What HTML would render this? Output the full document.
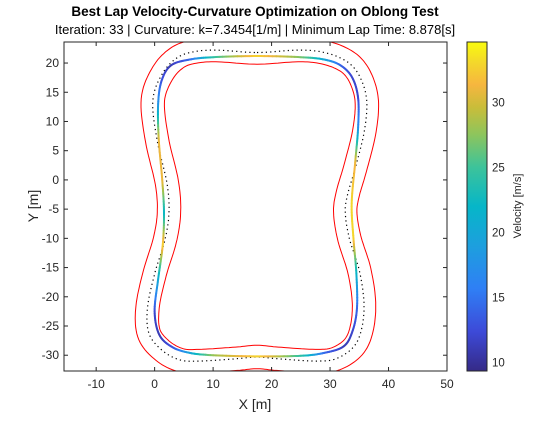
<!DOCTYPE html>
<html><head><meta charset="utf-8"><style>
html,body{margin:0;padding:0;background:#fff;}
svg text{font-family:"Liberation Sans",Arial,sans-serif;fill:#262626;}
</style></head><body>
<svg id="chart" width="560" height="420" viewBox="0 0 560 420" xmlns="http://www.w3.org/2000/svg">
<defs>
<linearGradient id="parula" x1="0" y1="1" x2="0" y2="0">
<stop offset="0" stop-color="#352a87"/><stop offset="0.12" stop-color="#3d4ad8"/><stop offset="0.25" stop-color="#2f7ff5"/><stop offset="0.38" stop-color="#1d9fde"/><stop offset="0.5" stop-color="#06b6c8"/><stop offset="0.62" stop-color="#3dc39a"/><stop offset="0.72" stop-color="#8ec55c"/><stop offset="0.8" stop-color="#c8bd3a"/><stop offset="0.87" stop-color="#f6b63f"/><stop offset="0.94" stop-color="#f4d92a"/><stop offset="1" stop-color="#f9fb0e"/>
</linearGradient>
<clipPath id="plotclip"><rect x="64" y="42" width="383" height="329"/></clipPath>
</defs>
<rect x="64" y="42" width="383" height="329" fill="#fff"/>
<g id="marks" clip-path="url(#plotclip)"></g>
<rect x="64" y="42" width="383" height="329" fill="none" stroke="#262626" stroke-width="1"/>
<g id="axes"></g>
<text x="255" y="16" text-anchor="middle" font-size="13.5" font-weight="bold" style="fill:#000">Best Lap Velocity-Curvature Optimization on Oblong Test</text>
<text x="255" y="34" text-anchor="middle" font-size="13" style="fill:#000">Iteration: 33 | Curvature: k=7.3454[1/m] | Minimum Lap Time: 8.878[s]</text>
<text x="255" y="409" text-anchor="middle" font-size="14">X [m]</text>
<text x="0" y="0" transform="translate(38,206) rotate(-90)" text-anchor="middle" font-size="14">Y [m]</text>
<rect x="467" y="42" width="20" height="329" fill="url(#parula)" stroke="#262626" stroke-width="1"/>
<text x="0" y="0" transform="translate(521,206) rotate(-90)" text-anchor="middle" font-size="11">Velocity [m/s]</text>
</svg>
<script>
const xTicks=[-10,0,10,20,30,40,50];
const yTicks=[-30,-25,-20,-15,-10,-5,0,5,10,15,20];
const cbTicks=[10,15,20,25,30];
const centerX=[17.5,24,28,31.5,34,35.6,36.3,35.8,34.3,33,32.6,33.3,35,35.8,35.4,34,31,27.5,21,17.5,14,7.7,4.3,1.2,-1,-1.2,0.05,1.75,2.45,2.1,0.4,-0.3,1.4,4,7.1,11];
const centerY=[21.8,22.2,22,21,19.3,16.5,13,8,2,-2.5,-5.6,-10,-15.5,-21,-25.5,-28.6,-30.6,-31,-30.6,-30.3,-30.6,-31,-30.8,-29.1,-26.2,-21.7,-15.9,-10.3,-5.6,-0.5,6.9,13.7,18.3,21,22,22.2];
const raceX=[17.5,25,29,31.8,33.8,34.8,34.8,34.3,33.7,34,34.5,34.6,33.8,32.3,29,25,17.5,10,6,3,0.8,0,0.6,1.4,1.6,1.3,0.7,0.6,1.2,2.8,6,10];
const raceY=[21.2,21,20.6,19.6,17.5,14,9,3,-4,-10,-16,-22,-26,-28.5,-29.6,-30.1,-30.2,-30,-29.6,-28.6,-26.5,-22.5,-17,-11,-5.5,0,7,13,17,19.6,20.6,21];
const raceV=[33,27,20,14,12,12,17,31,33,33,22,14,12,11,14,24,33,28,20,13,11,12,20,33,22,31,31,18,13,11,14,24];
const halfWidth=2.0;

const X0=-15.5,X1=50,Y0=-32.7,Y1=23.6,L=64,R=447,T=42,B=371;
const V0=9.33,V1=34.66;
const sx=x=>L+(x-X0)/(X1-X0)*(R-L);
const sy=y=>B-(y-Y0)/(Y1-Y0)*(B-T);
const cy=v=>B-(v-V0)/(V1-V0)*(B-T);
const NS='http://www.w3.org/2000/svg';
const marks=document.getElementById('marks'),axes=document.getElementById('axes');
function mk(tag,attrs,parent){const e=document.createElementNS(NS,tag);for(const k in attrs)e.setAttribute(k,attrs[k]);parent.appendChild(e);return e;}

function catmull(xs,ys,vs,n){const out=[];const N=xs.length;
 for(let i=0;i<N;i++){const i0=(i-1+N)%N,i2=(i+1)%N,i3=(i+2)%N;
  for(let k=0;k<n;k++){const t=k/n,t2=t*t,t3=t2*t;
   const f=(a,b,c,d)=>0.5*((2*b)+(-a+c)*t+(2*a-5*b+4*c-d)*t2+(-a+3*b-3*c+d)*t3);
   out.push({x:f(xs[i0],xs[i],xs[i2],xs[i3]),y:f(ys[i0],ys[i],ys[i2],ys[i3]),v:vs?vs[i]+(vs[i2]-vs[i])*t:0});}}
 return out;}

const parula=[[0,[53,42,135]],[0.12,[61,74,216]],[0.25,[47,127,245]],[0.38,[29,159,222]],[0.5,[6,182,200]],[0.62,[61,195,154]],[0.72,[142,197,92]],[0.8,[200,189,58]],[0.87,[246,182,63]],[0.94,[244,217,42]],[1,[249,251,14]]];
function col(v){let t=Math.max(0,Math.min(1,(v-V0)/(V1-V0)));for(let i=1;i<parula.length;i++){if(t<=parula[i][0]){const a=parula[i-1],b=parula[i];const u=(t-a[0])/(b[0]-a[0]);const c=a[1].map((q,j)=>Math.round(q+(b[1][j]-q)*u));return 'rgb('+c.join(',')+')';}}return 'rgb(249,251,14)';}

const cl=catmull(centerX,centerY,null,10);
const inner=[],outer=[];
for(let i=0;i<cl.length;i++){const a=cl[(i-1+cl.length)%cl.length],b=cl[(i+1)%cl.length];let dx=b.x-a.x,dy=b.y-a.y;const l=Math.hypot(dx,dy)||1;const nx=dy/l,ny=-dx/l;
 inner.push([cl[i].x-nx*halfWidth,cl[i].y-ny*halfWidth]);outer.push([cl[i].x+nx*halfWidth,cl[i].y+ny*halfWidth]);}
const pstr=a=>'M'+a.map(p=>sx(p[0]).toFixed(1)+','+sy(p[1]).toFixed(1)).join('L')+'Z';
let e=mk('path',{d:pstr(outer),fill:'none',stroke:'#ff0000','stroke-width':1},marks);


e=mk('path',{d:pstr(inner),fill:'none',stroke:'#ff0000','stroke-width':1},marks);


e=mk('path',{d:pstr(cl.map(p=>[p.x,p.y])),fill:'none',stroke:'#000','stroke-width':1.2,'stroke-dasharray':'1.2,3.2'},marks);



const rl=catmull(raceX,raceY,raceV,12);
const rg=mk('g',{},marks);


for(let i=0;i<rl.length;i++){const a=rl[i],b=rl[(i+1)%rl.length];
 const s=mk('line',{x1:sx(a.x).toFixed(2),y1:sy(a.y).toFixed(2),x2:sx(b.x).toFixed(2),y2:sy(b.y).toFixed(2),stroke:col((a.v+b.v)/2),'stroke-width':2,'stroke-linecap':'round'},rg);
 
 }

xTicks.forEach(v=>{const x=sx(v);
 mk('line',{x1:x,y1:B,x2:x,y2:B-4,stroke:'#262626'},axes);mk('line',{x1:x,y1:T,x2:x,y2:T+4,stroke:'#262626'},axes);
 const t=mk('text',{x:x,y:B+17,'text-anchor':'middle','font-size':12},axes);t.textContent=v;
 
 });
yTicks.forEach(v=>{const y=sy(v);
 mk('line',{x1:L,y1:y,x2:L+4,y2:y,stroke:'#262626'},axes);mk('line',{x1:R,y1:y,x2:R-4,y2:y,stroke:'#262626'},axes);
 const t=mk('text',{x:L-5,y:y+4,'text-anchor':'end','font-size':12},axes);t.textContent=v;
 
 });
cbTicks.forEach(v=>{const y=cy(v);
 mk('line',{x1:487,y1:y,x2:484,y2:y,stroke:'#262626'},axes);
 const t=mk('text',{x:492,y:y+4,'font-size':11.5},axes);t.textContent=v;
 
 });
</script>
</body></html>
